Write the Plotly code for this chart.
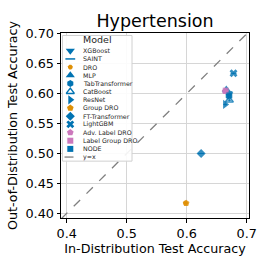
import plotly.graph_objects as go

# ---- data ----
models = ["XGBoost", "SAINT", "DRO", "MLP", "TabTransformer", "CatBoost", "ResNet",
          "Group DRO", "FT-Transformer", "LightGBM", "Adv. Label DRO", "Label Group DRO", "NODE"]
id_acc = [0.670, 0.668, 0.598, 0.666, 0.670, 0.671, 0.664, 0.599, 0.624, 0.678, 0.664, 0.665, 0.671]
ood_acc = [0.599, 0.603, 0.417, 0.607, 0.596, 0.589, 0.582, 0.417, 0.500, 0.634, 0.604, 0.605, 0.597]
id_err = [0.003, 0.003, 0.002, 0.003, 0.003, 0.003, 0.003, 0.003, 0.005, 0.005, 0.003, 0.003, 0.003]
ood_err = [0.002, 0.002, 0.001, 0.002, 0.002, 0.002, 0.002, 0.001, 0.001, 0.001, 0.002, 0.002, 0.002]
x_ticks = [0.4, 0.5, 0.6, 0.7]
y_ticks = [0.40, 0.45, 0.50, 0.55, 0.60, 0.65, 0.70]

# ---- styles ----
BLUE, ORANGE, PINK = "#0173b2", "#de8f05", "#cc78bc"
style = {
    "XGBoost": ("triangle-down", BLUE, 8),
    "SAINT": ("line-ew-open", BLUE, 7),
    "DRO": ("octagon", ORANGE, 5),
    "MLP": ("triangle-up", BLUE, 8),
    "TabTransformer": ("hexagon", BLUE, 7),
    "CatBoost": ("triangle-up-open", BLUE, 7),
    "ResNet": ("triangle-right", BLUE, 8),
    "Group DRO": ("pentagon", ORANGE, 7),
    "FT-Transformer": ("diamond", BLUE, 7),
    "LightGBM": ("x", BLUE, 7),
    "Adv. Label DRO": ("pentagon", PINK, 7),
    "Label Group DRO": ("square", PINK, 6),
    "NODE": ("square", BLUE, 6),
}

W = H = 266
L, R, T, B = 61, 17, 32.5, 48
pw, ph = W - L - R, H - T - B
xr = [0.3905, 0.7038]
yr = [0.3922, 0.7013]

fig = go.Figure()

# y = x reference line
lo, hi = min(xr[0], yr[0]), max(xr[1], yr[1])
fig.add_trace(go.Scatter(x=[lo, hi], y=[lo, hi], mode="lines",
                         line=dict(color="#808080", dash="dash", width=1.3),
                         showlegend=False, hoverinfo="skip"))

for m, xi, yi, ex, ey in zip(models, id_acc, ood_acc, id_err, ood_err):
    sym, col, sz = style[m]
    lw = 1.5 if sym.endswith("open") else 0
    fig.add_trace(go.Scatter(
        x=[xi], y=[yi], mode="markers", name=m, showlegend=False,
        marker=dict(symbol=sym, color=col, size=sz, opacity=0.8,
                    line=dict(color=col, width=lw)),
        error_x=dict(type="data", array=[ex], color=col, thickness=1, width=0),
        error_y=dict(type="data", array=[ey], color=col, thickness=1, width=0),
    ))

# ---- custom legend drawn on overlay axes spanning the plot area (0..1) ----
def px_x(p):
    return (p - L) / pw

def px_y(p):
    return (H - B - p) / ph

leg_left, leg_right, leg_top, leg_bot = 62.5, 132, 35, 161
fig.add_trace(go.Scatter(
    x=[px_x(leg_left), px_x(leg_right), px_x(leg_right), px_x(leg_left), px_x(leg_left)],
    y=[px_y(leg_bot), px_y(leg_bot), px_y(leg_top), px_y(leg_top), px_y(leg_bot)],
    mode="lines", fill="toself", fillcolor="rgba(255,255,255,0.9)",
    line=dict(color="#d0d0d0", width=1), xaxis="x2", yaxis="y2",
    showlegend=False, hoverinfo="skip"))

fig.add_annotation(x=px_x(97), y=px_y(39.5), xref="paper", yref="paper", text="Model",
                   showarrow=False, font=dict(size=9.5, color="#262626", family="DejaVu Sans"),
                   xanchor="center", yanchor="middle")

entries = models + ["y=x"]
y0_px, step = 50.3, 8.2
mk_x = px_x(70.3)
for i, m in enumerate(entries):
    yy = px_y(y0_px + i * step)
    fig.add_annotation(x=px_x(80.5), y=yy, xref="paper", yref="paper", text=m,
                       showarrow=False, font=dict(size=6.3, color="#262626", family="DejaVu Sans"),
                       xanchor="left", yanchor="middle")
    if m == "y=x":
        fig.add_trace(go.Scatter(x=[px_x(64.5), px_x(76)], y=[yy, yy], mode="lines",
                                 xaxis="x2", yaxis="y2", showlegend=False, hoverinfo="skip",
                                 line=dict(color="#808080", dash="dash", width=1.3)))
    else:
        sym, col, sz = style[m]
        lw = 1.5 if sym.endswith("open") else 0
        fig.add_trace(go.Scatter(x=[mk_x], y=[yy], mode="markers", xaxis="x2", yaxis="y2",
                                 showlegend=False, hoverinfo="skip",
                                 marker=dict(symbol=sym, color=col, size=sz,
                                             line=dict(color=col, width=lw))))

axis_common = dict(showline=True, linecolor="black", linewidth=1, mirror=True,
                   ticks="outside", ticklen=3.5, tickcolor="black", automargin=False,
                   showgrid=True, gridcolor="#d6d6d6", gridwidth=1, zeroline=False,
                   tickfont=dict(size=12.8, color="black", family="DejaVu Sans"))

fig.update_layout(
    width=W, height=H,
    margin=dict(l=L, r=R, t=T, b=B, pad=0),
    paper_bgcolor="white", plot_bgcolor="white",
    title=dict(text="Hypertension", x=(L + pw / 2) / W, xanchor="center", y=1 - 21 / H, yanchor="middle",
               font=dict(size=17.5, color="black", family="DejaVu Sans")),
    xaxis=dict(range=xr, tickvals=x_ticks, ticktext=[f"{v:.1f}" for v in x_ticks],
               title=dict(text="In-Distribution Test Accuracy", standoff=3,
                          font=dict(size=12.7, color="black", family="DejaVu Sans")),
               **axis_common),
    yaxis=dict(range=yr, tickvals=y_ticks, ticktext=[f"{v:.2f}" for v in y_ticks],
               title=dict(text="Out-of-Distribution Test Accuracy", standoff=4,
                          font=dict(size=12.7, color="black", family="DejaVu Sans")),
               **axis_common),
    xaxis2=dict(overlaying="x", range=[0, 1], visible=False, fixedrange=True),
    yaxis2=dict(overlaying="y", range=[0, 1], visible=False, fixedrange=True),
    showlegend=False,
)

fig.write_html("out.html", config={"displayModeBar": False},
               post_script="document.body.style.margin='0px';document.body.style.overflow='hidden';")
